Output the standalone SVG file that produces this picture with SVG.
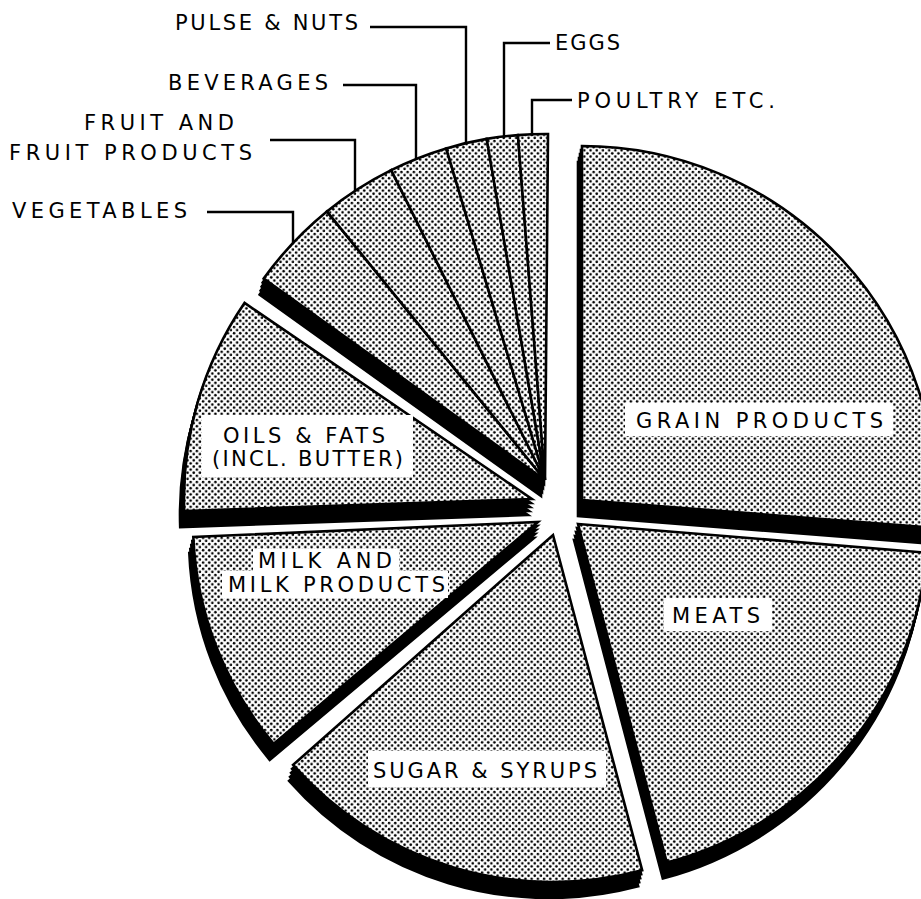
<svg xmlns="http://www.w3.org/2000/svg" xmlns:xlink="http://www.w3.org/1999/xlink" width="921" height="899" viewBox="0 0 921 899">
<style>
.slice{fill:url(#dots);stroke:#000;stroke-width:2.6;stroke-linejoin:miter}
.depth{fill:#000;stroke:#000;stroke-width:2.6}
.lbl{font-family:"DejaVu Sans","Liberation Sans",sans-serif;font-size:21px;fill:#000}
.box{fill:#fff;stroke:none}
.lead{fill:none;stroke:#000;stroke-width:2.4}
</style>
<defs>
<pattern id="dots" patternUnits="userSpaceOnUse" width="6.2" height="6.2">
<rect width="6.2" height="6.2" fill="#fff"/>
<circle cx="1.55" cy="1.55" r="1.3" fill="#000"/>
<circle cx="4.65" cy="4.65" r="1.3" fill="#000"/>
</pattern>
<path id="p-grain" d="M582,500 L582,146 A354,354 0 0 1 934.9,527.8 Z"/>
<path id="p-meats" d="M578,524 L926.8,552.7 A350,350 0 0 1 666.8,862.5 Z"/>
<path id="p-sugar" d="M553,535 L642.2,870.3 A347,347 0 0 1 293.1,764.9 Z"/>
<path id="p-milk" d="M538,522 L273.7,743.8 A345,345 0 0 1 193.3,537 Z"/>
<path id="p-oils" d="M532,499 L184.2,511.1 A348,348 0 0 1 244.5,302.9 Z"/>
<path id="p-small" d="M545,480 L263.7,278.6 A346,346 0 0 1 548,134 Z"/>
</defs>
<rect width="921" height="899" fill="#fff"/>

<g id="grain-products">
<use xlink:href="#p-grain" class="depth" transform="translate(-1,4)"/>
<use xlink:href="#p-grain" class="depth" transform="translate(-2,8)"/>
<use xlink:href="#p-grain" class="depth" transform="translate(-3,12)"/>
<use xlink:href="#p-grain" class="depth" transform="translate(-4,16)"/>
<use xlink:href="#p-grain" class="slice"/>
<rect class="box" x="625" y="403" width="268" height="33"/>
<text class="lbl" x="636" y="428" textLength="247" lengthAdjust="spacing">GRAIN PRODUCTS</text>
</g>

<g id="meats">
<use xlink:href="#p-meats" class="depth" transform="translate(-1,4)"/>
<use xlink:href="#p-meats" class="depth" transform="translate(-2,8)"/>
<use xlink:href="#p-meats" class="depth" transform="translate(-3,12)"/>
<use xlink:href="#p-meats" class="depth" transform="translate(-4,16)"/>
<use xlink:href="#p-meats" class="slice"/>
<rect class="box" x="664" y="598" width="108" height="33"/>
<text class="lbl" x="672" y="623" textLength="88" lengthAdjust="spacing">MEATS</text>
</g>

<g id="sugar-syrups">
<use xlink:href="#p-sugar" class="depth" transform="translate(-1,4)"/>
<use xlink:href="#p-sugar" class="depth" transform="translate(-2,8)"/>
<use xlink:href="#p-sugar" class="depth" transform="translate(-3,12)"/>
<use xlink:href="#p-sugar" class="depth" transform="translate(-4,16)"/>
<use xlink:href="#p-sugar" class="slice"/>
<rect class="box" x="368" y="751" width="238" height="36"/>
<text class="lbl" x="373" y="778" textLength="224" lengthAdjust="spacing">SUGAR &amp; SYRUPS</text>
</g>

<g id="milk-products">
<use xlink:href="#p-milk" class="depth" transform="translate(-1,4)"/>
<use xlink:href="#p-milk" class="depth" transform="translate(-2,8)"/>
<use xlink:href="#p-milk" class="depth" transform="translate(-3,12)"/>
<use xlink:href="#p-milk" class="depth" transform="translate(-4,16)"/>
<use xlink:href="#p-milk" class="slice"/>
<rect class="box" x="253" y="549" width="146" height="24"/>
<rect class="box" x="222" y="571" width="226" height="27"/>
<text class="lbl" x="258" y="568" textLength="134" lengthAdjust="spacing">MILK AND</text>
<text class="lbl" x="228" y="592" textLength="217" lengthAdjust="spacing">MILK PRODUCTS</text>
</g>

<g id="oils-fats">
<use xlink:href="#p-oils" class="depth" transform="translate(-1,4)"/>
<use xlink:href="#p-oils" class="depth" transform="translate(-2,8)"/>
<use xlink:href="#p-oils" class="depth" transform="translate(-3,12)"/>
<use xlink:href="#p-oils" class="depth" transform="translate(-4,16)"/>
<use xlink:href="#p-oils" class="slice"/>
<rect class="box" x="202" y="415" width="211" height="62"/>
<text class="lbl" x="223" y="443" textLength="162" lengthAdjust="spacing">OILS &amp; FATS</text>
<text class="lbl" x="212" y="466" textLength="191" lengthAdjust="spacing">(INCL. BUTTER)</text>
</g>

<g id="small-slices-depth">
<use xlink:href="#p-small" class="depth" transform="translate(-1,4)"/>
<use xlink:href="#p-small" class="depth" transform="translate(-2,8)"/>
<use xlink:href="#p-small" class="depth" transform="translate(-3,12)"/>
<use xlink:href="#p-small" class="depth" transform="translate(-4,16)"/>
</g>
<g id="vegetables">
<path class="slice" d="M545,480 L263.7,278.6 A346,346 0 0 1 326.9,211.4 Z"/>
<text class="lbl" x="12" y="218" textLength="175" lengthAdjust="spacing">VEGETABLES</text>
</g>
<g id="fruit-products">
<path class="slice" d="M545,480 L326.9,211.4 A346,346 0 0 1 391.2,170.1 Z"/>
<text class="lbl" x="84" y="130" textLength="150" lengthAdjust="spacing">FRUIT AND</text>
<text class="lbl" x="9" y="160" textLength="243" lengthAdjust="spacing">FRUIT PRODUCTS</text>
</g>
<g id="beverages">
<path class="slice" d="M545,480 L391.2,170.1 A346,346 0 0 1 446.2,148.4 Z"/>
<text class="lbl" x="168" y="90" textLength="160" lengthAdjust="spacing">BEVERAGES</text>
</g>
<g id="pulse-nuts">
<path class="slice" d="M545,480 L446.2,148.4 A346,346 0 0 1 486.7,138.9 Z"/>
<text class="lbl" x="175" y="30" textLength="183" lengthAdjust="spacing">PULSE &amp; NUTS</text>
</g>
<g id="eggs">
<path class="slice" d="M545,480 L486.7,138.9 A346,346 0 0 1 517.9,135.1 Z"/>
<text class="lbl" x="555" y="50" textLength="65" lengthAdjust="spacing">EGGS</text>
</g>
<g id="poultry">
<path class="slice" d="M545,480 L517.9,135.1 A346,346 0 0 1 548,134 Z"/>
<text class="lbl" x="577" y="108" textLength="198" lengthAdjust="spacing">POULTRY ETC.</text>
</g>

<g id="connectors">
<polyline class="lead" points="370,27 466,27 466,144"/>
<polyline class="lead" points="550,43 504,43 504,138"/>
<polyline class="lead" points="343,85 416,85 416,160"/>
<polyline class="lead" points="572,100 532,100 532,136"/>
<polyline class="lead" points="270,140 355,140 355,192"/>
<polyline class="lead" points="207,212 293,212 293,244"/>
</g>
</svg>
